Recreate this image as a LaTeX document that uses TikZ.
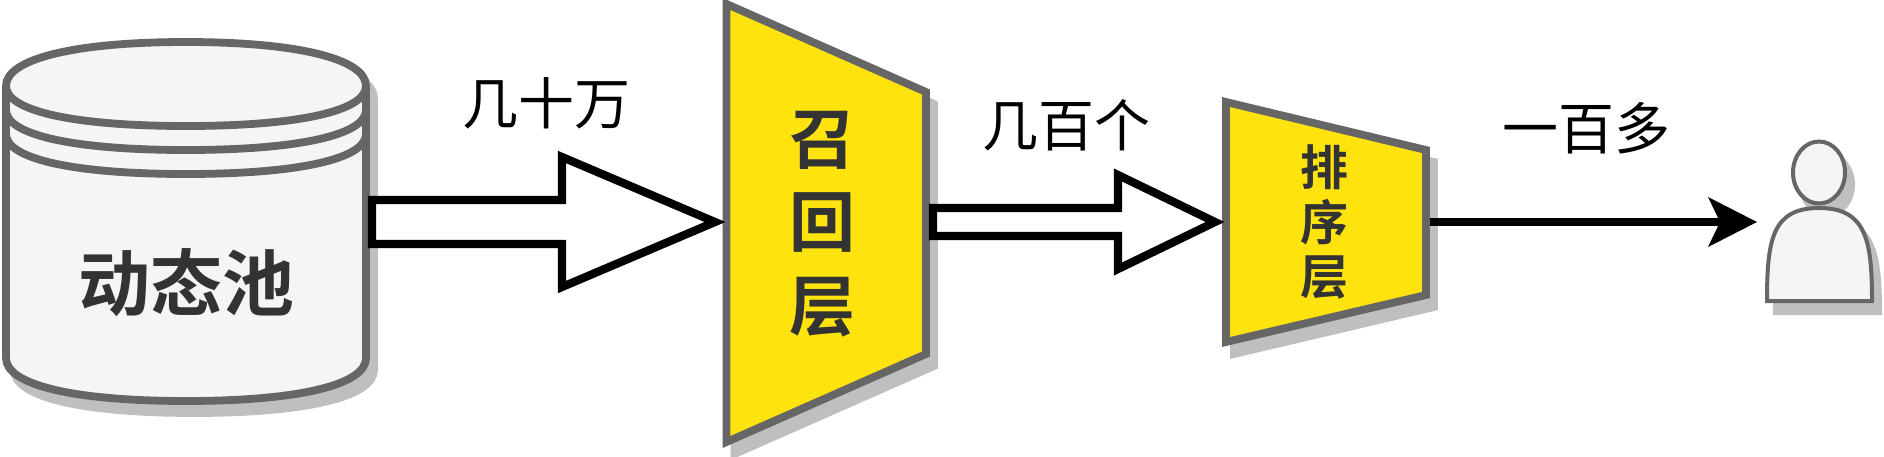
\documentclass[tikz,border=0pt]{standalone}
\usepackage{fontspec}
\newfontfamily\cjk{Noto Sans CJK SC}
\newfontfamily\cjkb{Noto Sans CJK SC Bold}
\definecolor{boxgrey}{HTML}{F5F5F5}
\definecolor{edgegrey}{HTML}{666666}
\definecolor{shadowgrey}{HTML}{BFBFBF}
\definecolor{layeryellow}{HTML}{FFE30F}
\definecolor{inkgrey}{HTML}{333333}
\tikzset{
  edgeline/.style={draw=edgegrey,line width=3.9pt,line join=miter},
  shadowfill/.style={fill=shadowgrey,draw=shadowgrey,line width=3.9pt,line join=miter},
  shadowthin/.style={fill=shadowgrey,draw=shadowgrey,line width=2pt},
  layerbox/.style={edgeline,fill=layeryellow},
  blockarrow/.style={draw=black,fill=white,line width=4.1pt,line join=miter},
  countlabel/.style={font=\cjk\fontsize{28}{30}\selectfont,text=black,inner sep=0pt},
  layertext/.style={text=inkgrey,inner sep=0pt,anchor=center},
  usershape/.style={draw=edgegrey,fill=boxgrey,line width=2pt},
  tip3/.style={fill=black,draw=none}
}
\begin{document}
\begin{tikzpicture}[x=0.5pt,y=-0.5pt]
\clip (0,0) rectangle (1884,456);
% shadows
\begin{scope}[shift={(8,12)}]
  \path[shadowfill] (6,86) -- (6,358) .. controls (6,385) and (74,401) .. (186,401) .. controls (298,401) and (366,385) .. (366,358) -- (366,86) .. controls (366,59) and (298,42) .. (186,42) .. controls (74,42) and (6,59) .. (6,86) -- cycle;
  \path[shadowfill] (726.5,4) -- (926,92) -- (926,354) -- (726.5,442) -- cycle;
  \path[shadowfill] (1226,102) -- (1426,150) -- (1426,295) -- (1226,342) -- cycle;
  \path[shadowthin] (1819,172.5) ellipse [x radius=26, y radius=31];
  \path[shadowthin] (1767,301) .. controls (1767,240) and (1772,208) .. (1819,208) .. controls (1866,208) and (1872,240) .. (1872,301) -- cycle;
\end{scope}
% pool cylinder
\path[edgeline,fill=boxgrey] (6,86) -- (6,358) .. controls (6,385) and (74,401) .. (186,401) .. controls (298,401) and (366,385) .. (366,358) -- (366,86) .. controls (366,59) and (298,42) .. (186,42) .. controls (74,42) and (6,59) .. (6,86) -- cycle;
\draw[edgeline] (6,86) .. controls (6,111) and (74,126) .. (186,126) .. controls (298,126) and (366,111) .. (366,86);
\draw[edgeline] (6,110) .. controls (6,135) and (74,150) .. (186,150) .. controls (298,150) and (366,135) .. (366,110);
\draw[edgeline] (6,134) .. controls (6,159) and (74,174) .. (186,174) .. controls (298,174) and (366,159) .. (366,134);
\node[layertext,font=\cjkb\fontsize{36}{38}\selectfont] (pool) at (186,283) {动态池};
% layers
\path[layerbox] (726.5,4) -- (926,92) -- (926,354) -- (726.5,442) -- cycle;
\path[layerbox] (1226,102) -- (1426,150) -- (1426,295) -- (1226,342) -- cycle;
\node[layertext,font=\cjkb\fontsize{33}{35}\selectfont] (recallA) at (822.5,140) {召};
\node[layertext,font=\cjkb\fontsize{33}{35}\selectfont] (recallB) at (822.5,223) {回};
\node[layertext,font=\cjkb\fontsize{33}{35}\selectfont] (recallC) at (822.5,307) {层};
\node[layertext,font=\cjkb\fontsize{24}{26}\selectfont] (rankA) at (1324,167) {排};
\node[layertext,font=\cjkb\fontsize{24}{26}\selectfont] (rankB) at (1324,222) {序};
\node[layertext,font=\cjkb\fontsize{24}{26}\selectfont] (rankC) at (1324,278) {层};
% block arrows
\path[blockarrow] (372,200) -- (562,200) -- (562,157) -- (715,222) -- (562,287) -- (562,244) -- (372,244) -- cycle;
\path[blockarrow] (933,208) -- (1118,208) -- (1118,175) -- (1215,222) -- (1118,269) -- (1118,236) -- (933,236) -- cycle;
% user
\path[usershape] (1819,172.5) ellipse [x radius=26, y radius=31];
\path[usershape] (1767,301) .. controls (1767,240) and (1772,208) .. (1819,208) .. controls (1866,208) and (1872,240) .. (1872,301) -- cycle;
% thin arrow
\coordinate (rankOut) at (1430,222);
\coordinate (userIn) at (1757,222);
\draw[black,line width=4pt] (rankOut) -- (1725,222);
\path[tip3] (userIn) -- (1708,197) -- (1720,222) -- (1708,247) -- cycle;
% labels
\node[countlabel] (labA) at (546,103) {几十万};
\node[countlabel] (labB) at (1066,125) {几百个};
\node[countlabel] (labC) at (1586,128) {一百多};
\end{tikzpicture}
\end{document}
